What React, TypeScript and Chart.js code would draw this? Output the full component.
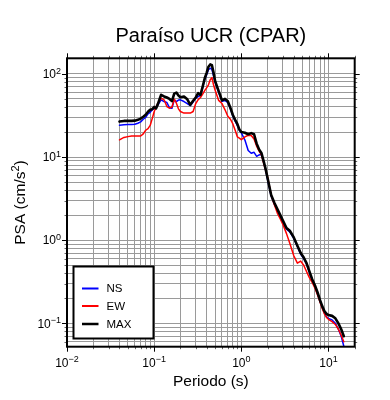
import React, { useEffect, useRef } from "react";
import { Chart, registerables } from "chart.js";

Chart.register(...registerables);

// ---------- data ----------
const periods = [
  0.04, 0.045, 0.05, 0.055, 0.06, 0.065, 0.07, 0.075, 0.08, 0.085, 0.09, 0.095,
  0.1, 0.105, 0.11,
  0.12, 0.13, 0.14, 0.15, 0.16, 0.17, 0.18, 0.19, 0.2,
  0.22, 0.24, 0.26, 0.28, 0.3, 0.32, 0.34, 0.36, 0.38, 0.4, 0.42, 0.44, 0.46, 0.48, 0.5,
  0.55, 0.6, 0.65, 0.7, 0.75, 0.8, 0.85, 0.9, 0.95,
  1.0, 1.1, 1.2, 1.3, 1.4, 1.5, 1.6, 1.7, 1.8, 1.9, 2.0,
  2.2, 2.4, 2.6, 2.8, 3.0,
  3.3, 3.6, 4.0, 4.4, 4.8, 5.2, 5.6, 6.0, 6.5, 7.0, 7.5, 8.0, 8.5, 9.0, 9.5,
  10, 11, 12, 13, 14, 15,
];

const nsValues = [
  24.2, 24.5, 24.6, 24.7, 24.8, 25.5, 26.5, 28.5, 30, 33, 34.5, 37,
  38.5, 39, 42,
  48.8, 46.5, 45.3, 39, 38.7, 48.8, 46.5, 48.5, 48.8,
  46.5, 44, 41.5, 46, 51, 53.4, 55, 68, 85, 98, 112, 117, 113, 95, 80,
  60, 47, 48, 45, 38, 31, 27, 24, 21,
  19.5, 16, 12, 11.1, 11.4, 10.2, 10.6, 10.8, 8.8, 7, 5.4,
  3.4, 2.7, 2.3, 1.9, 1.65,
  1.36, 1.26, 1.05, 0.84, 0.68, 0.6, 0.52, 0.42, 0.33, 0.275, 0.225, 0.185, 0.155, 0.132, 0.12,
  0.115, 0.11, 0.1, 0.085, 0.07, 0.053,
];

const ewValues = [
  16.1, 17.2, 17.6, 17.9, 17.9, 17.9, 17.9, 19, 21, 22, 24, 29,
  35, 40, 44,
  51, 48.8, 40.5, 38.7, 40, 49.7, 44.5, 38, 35.3,
  33.8, 33.8, 33.8, 35.3, 44, 49, 52, 57, 63, 68, 74, 85, 90, 74, 64,
  48, 44, 37, 31, 28.5, 25, 21, 17.5, 16.9,
  16.2, 17.5, 18.3, 18.2, 16.5, 13.5, 11.8, 10.6, 8.5, 7.0, 5.8,
  3.5, 2.65, 2.1, 1.8, 1.55,
  1.2, 0.92, 0.65, 0.53, 0.56, 0.5, 0.42, 0.36, 0.31, 0.265, 0.22, 0.18, 0.15, 0.13, 0.118,
  0.112, 0.105, 0.097, 0.085, 0.072, 0.06,
];

const maxValues = [
  26.7, 27.2, 27.3, 27.2, 27.4, 28, 29, 30.5, 32.3, 35, 37, 37.6,
  40, 38.5, 43,
  56, 53.5, 52, 50, 47, 58, 59.6, 55, 52.5,
  53.4, 49.5, 42.5, 47.5, 52, 58.6, 56, 70, 88, 103, 122, 130, 127, 104, 82,
  62, 48, 50, 47, 39, 32, 28, 25, 21.5,
  20, 19.6, 18.8, 19.4, 18.8, 14.5, 12.3, 11.2, 9, 7.2, 5.6,
  3.5, 2.8, 2.35, 2.0, 1.72,
  1.4, 1.3, 1.08, 0.86, 0.7, 0.62, 0.53, 0.43, 0.34, 0.285, 0.235, 0.19, 0.16, 0.14, 0.13,
  0.126, 0.123, 0.115, 0.1, 0.085, 0.07,
];

const seriesLabels = ["NS", "EW", "MAX"];
const seriesColors = ["#0000ff", "#ff0000", "#000000"];

const xDecadeExponents = [-2, -1, 0, 1];
const yDecadeExponents = [-2, -1, 0, 1, 2];

const titleText = "Paraíso UCR (CPAR)";
const xAxisTitle = "Periodo (s)";
const yAxisTitleMain = "PSA (cm/s";
const yAxisTitleSup = "2";
const yAxisTitleEnd = ")";

const X_MIN = 0.01;
const X_MAX = 20;
const Y_MIN = 0.0524;
const Y_MAX = 154;

// ---------- helpers ----------
const FONT = "'Liberation Sans', Arial, Helvetica, sans-serif";
const GRID = "#9a9a9a";

function gridValues(exps: number[], lo: number, hi: number) {
  const out: number[] = [];
  for (const e of exps) {
    for (let m = 1; m <= 9; m++) {
      const v = +(m * Math.pow(10, e)).toPrecision(6);
      if (v >= lo * 0.999999 && v <= hi * 1.000001) out.push(v);
    }
  }
  return out;
}

const xGrid = gridValues(xDecadeExponents, X_MIN, X_MAX);
const yGrid = gridValues(yDecadeExponents, Y_MIN, Y_MAX);

function isDecade(v: number) {
  const l = Math.log10(v);
  return Math.abs(l - Math.round(l)) < 1e-9;
}

function drawPow(
  ctx: CanvasRenderingContext2D,
  exp: number,
  x: number,
  baseline: number,
  align: "center" | "right"
) {
  const base = "10";
  const expStr = exp < 0 ? "\u2212" + Math.abs(exp) : String(exp);
  ctx.font = `12px ${FONT}`;
  const wb = ctx.measureText(base).width;
  ctx.font = `9px ${FONT}`;
  const we = ctx.measureText(expStr).width;
  const total = wb + we;
  const x0 = align === "center" ? x - total / 2 : x - total;
  ctx.textAlign = "left";
  ctx.textBaseline = "alphabetic";
  ctx.fillStyle = "#000";
  ctx.font = `12px ${FONT}`;
  ctx.fillText(base, x0, baseline);
  ctx.font = `9px ${FONT}`;
  ctx.fillText(expStr, x0 + wb, baseline - 4.4);
}

const decorPlugin = {
  id: "decor",
  beforeDraw(chart: any) {
    const { ctx, width, height } = chart;
    ctx.save();
    ctx.fillStyle = "#fff";
    ctx.fillRect(0, 0, width, height);
    ctx.restore();
  },
  afterDatasetsDraw(chart: any) {
    const { ctx, chartArea: a, scales } = chart;
    const xs = scales.x;
    const ys = scales.y;
    ctx.save();

    // outside tick marks, all four sides
    ctx.lineWidth = 1;
    for (const v of xGrid) {
      const px = Math.round(xs.getPixelForValue(v)) + 0.5;
      const major = isDecade(v);
      const len = major ? 5 : 2.5;
      ctx.strokeStyle = major ? "#000" : "#666";
      ctx.beginPath();
      ctx.moveTo(px, a.bottom);
      ctx.lineTo(px, a.bottom + len);
      ctx.moveTo(px, a.top - len);
      ctx.lineTo(px, a.top);
      ctx.stroke();
    }
    for (const v of yGrid) {
      const py = Math.round(ys.getPixelForValue(v)) + 0.5;
      const major = isDecade(v);
      const len = major ? 5 : 2.5;
      ctx.strokeStyle = major ? "#000" : "#666";
      ctx.beginPath();
      ctx.moveTo(a.left - len, py);
      ctx.lineTo(a.left, py);
      ctx.moveTo(a.right, py);
      ctx.lineTo(a.right + len, py);
      ctx.stroke();
    }

    // frame
    ctx.strokeStyle = "#000";
    ctx.lineWidth = 2;
    ctx.strokeRect(a.left, a.top, a.right - a.left, a.bottom - a.top);

    // legend box
    const lx = 73.5;
    const ly = 266.5;
    const lw = 80;
    const lh = 72;
    ctx.fillStyle = "#fff";
    ctx.fillRect(lx, ly, lw, lh);
    ctx.strokeStyle = "#000";
    ctx.lineWidth = 2;
    ctx.strokeRect(lx, ly, lw, lh);
    const rows = [288.5, 306, 324];
    seriesLabels.forEach((lab, i) => {
      ctx.strokeStyle = seriesColors[i];
      ctx.lineWidth = i === 2 ? 2.5 : 2;
      ctx.beginPath();
      ctx.moveTo(82, rows[i]);
      ctx.lineTo(98.5, rows[i]);
      ctx.stroke();
      ctx.fillStyle = "#000";
      ctx.font = `11.5px ${FONT}`;
      ctx.textAlign = "left";
      ctx.textBaseline = "middle";
      ctx.fillText(lab, 106.5, rows[i] + 0.5);
    });

    ctx.restore();
  },
  afterDraw(chart: any) {
    const { ctx, chartArea: a, scales } = chart;
    const xs = scales.x;
    const ys = scales.y;
    const cx = (a.left + a.right) / 2;
    ctx.save();

    // title
    ctx.fillStyle = "#000";
    ctx.font = `20px ${FONT}`;
    ctx.textAlign = "center";
    ctx.textBaseline = "alphabetic";
    ctx.fillText(titleText, cx, 41.5);

    // tick labels
    for (const e of xDecadeExponents) {
      drawPow(ctx, e, xs.getPixelForValue(Math.pow(10, e)), 366.7, "center");
    }
    for (const e of yDecadeExponents) {
      const v = Math.pow(10, e);
      if (v < Y_MIN || v > Y_MAX) continue;
      drawPow(ctx, e, a.left - 6, ys.getPixelForValue(v) + 4.2, "right");
    }

    // x axis title
    ctx.fillStyle = "#000";
    ctx.font = `15.5px ${FONT}`;
    ctx.textAlign = "center";
    ctx.textBaseline = "alphabetic";
    ctx.fillText(xAxisTitle, cx, 385.5);

    // y axis title (rotated, with superscript)
    const cy = (a.top + a.bottom) / 2;
    ctx.translate(25, cy);
    ctx.rotate(-Math.PI / 2);
    ctx.font = `15.5px ${FONT}`;
    const w1 = ctx.measureText(yAxisTitleMain).width;
    const w3 = ctx.measureText(yAxisTitleEnd).width;
    ctx.font = `11px ${FONT}`;
    const w2 = ctx.measureText(yAxisTitleSup).width;
    const x0 = -(w1 + w2 + w3) / 2;
    ctx.textAlign = "left";
    ctx.font = `15.5px ${FONT}`;
    ctx.fillText(yAxisTitleMain, x0, 0);
    ctx.font = `11px ${FONT}`;
    ctx.fillText(yAxisTitleSup, x0 + w1, -6);
    ctx.font = `15.5px ${FONT}`;
    ctx.fillText(yAxisTitleEnd, x0 + w1 + w2, 0);

    ctx.restore();
  },
};

export default function App() {
  const ref = useRef<HTMLCanvasElement>(null);

  useEffect(() => {
    document.body.style.margin = "0";
    const canvas = ref.current;
    if (!canvas) return;
    const toPts = (vals: number[]) => periods.map((x, i) => ({ x, y: vals[i] }));

    const chart = new Chart(canvas, {
      type: "line",
      data: {
        datasets: [
          { label: seriesLabels[0], data: toPts(nsValues), borderColor: seriesColors[0], borderWidth: 1.5, order: 3 },
          { label: seriesLabels[1], data: toPts(ewValues), borderColor: seriesColors[1], borderWidth: 1.5, order: 2 },
          { label: seriesLabels[2], data: toPts(maxValues), borderColor: seriesColors[2], borderWidth: 2.6, order: 1 },
        ],
      },
      options: {
        responsive: false,
        animation: false,
        elements: {
          point: { radius: 0 },
          line: { tension: 0, borderJoinStyle: "round", borderCapStyle: "round" },
        },
        layout: { padding: { left: 67, top: 58.3, right: 35.3, bottom: 53.3 } },
        plugins: {
          legend: { display: false },
          title: { display: false },
          tooltip: { enabled: false },
        },
        scales: {
          x: {
            type: "logarithmic",
            min: X_MIN,
            max: X_MAX,
            afterBuildTicks: (s: any) => {
              s.ticks = xGrid.map((v) => ({ value: v }));
            },
            afterFit: (s: any) => {
              s.height = 0;
            },
            ticks: { display: false },
            grid: { color: GRID, lineWidth: 1, drawTicks: false },
            border: { display: false },
          },
          y: {
            type: "logarithmic",
            min: Y_MIN,
            max: Y_MAX,
            afterBuildTicks: (s: any) => {
              s.ticks = yGrid.map((v) => ({ value: v }));
            },
            afterFit: (s: any) => {
              s.width = 0;
            },
            ticks: { display: false },
            grid: { color: GRID, lineWidth: 1, drawTicks: false },
            border: { display: false },
          },
        },
      } as any,
      plugins: [decorPlugin as any],
    });
    return () => chart.destroy();
  }, []);

  return <canvas ref={ref} width={390} height={400} style={{ display: "block" }} />;
}
